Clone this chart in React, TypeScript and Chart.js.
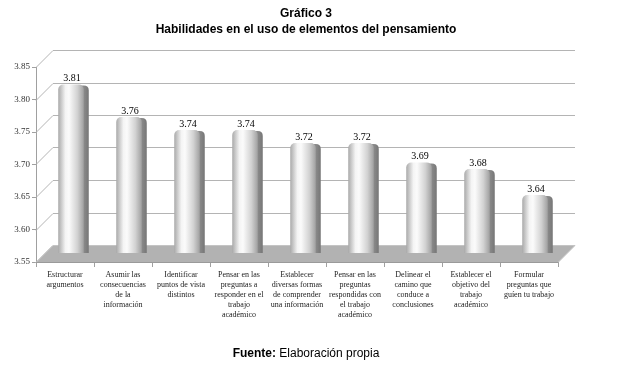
import React, { useEffect, useRef } from "react";
import { Chart, registerables } from "chart.js";

Chart.register(...registerables);

const categories: string[][] = [
  ["Estructurar", "argumentos"],
  ["Asumir las", "consecuencias", "de la", "información"],
  ["Identificar", "puntos de vista", "distintos"],
  ["Pensar en las", "preguntas a", "responder en el", "trabajo", "académico"],
  ["Establecer", "diversas formas", "de comprender", "una información"],
  ["Pensar en las", "preguntas", "respondidas con", "el trabajo", "académico"],
  ["Delinear el", "camino que", "conduce a", "conclusiones"],
  ["Establecer el", "objetivo del", "trabajo", "académico"],
  ["Formular", "preguntas que", "guíen tu trabajo"],
];
const values: number[] = [3.81, 3.76, 3.74, 3.74, 3.72, 3.72, 3.69, 3.68, 3.64];
const yMin = 3.55;
const yMax = 3.85;
const yStep = 0.05;

const SERIF = "'Liberation Serif', 'DejaVu Serif', serif";
const SANS = "'Liberation Sans', Arial, sans-serif";

const WALL_DX = 17;
const WALL_DY = 17;
const BAR_DX = 6;
const BAR_DY = 8.5;
const BAR_PCT = 0.44;

function topRoundRect(ctx: CanvasRenderingContext2D, x: number, y: number, w: number, h: number, r: number) {
  ctx.beginPath();
  ctx.moveTo(x, y + h);
  ctx.lineTo(x, y + r);
  ctx.quadraticCurveTo(x, y, x + r, y);
  ctx.lineTo(x + w - r, y);
  ctx.quadraticCurveTo(x + w, y, x + w, y + r);
  ctx.lineTo(x + w, y + h);
  ctx.closePath();
}

const threeD = {
  id: "threeD",
  beforeDatasetsDraw(chart: any) {
    const { ctx, chartArea, scales } = chart;
    const ys = scales.y;
    const left = chartArea.left;
    const right = chartArea.right;
    ctx.save();
    ctx.strokeStyle = "#b4b4b4";
    ctx.lineWidth = 1;
    for (const t of ys.ticks) {
      const py = Math.round(ys.getPixelForValue(t.value)) + 0.5;
      ctx.beginPath();
      ctx.moveTo(left, py);
      ctx.lineTo(left + WALL_DX, py - WALL_DY);
      ctx.lineTo(right + WALL_DX, py - WALL_DY);
      ctx.stroke();
    }
    const fy = Math.round(ys.getPixelForValue(yMin)) + 0.5;
    ctx.beginPath();
    ctx.moveTo(left, fy);
    ctx.lineTo(right, fy);
    ctx.lineTo(right + WALL_DX, fy - WALL_DY);
    ctx.lineTo(left + WALL_DX, fy - WALL_DY);
    ctx.closePath();
    ctx.fillStyle = "#b2b2b2";
    ctx.fill();
    ctx.strokeStyle = "#c4c4c4";
    ctx.stroke();
    ctx.beginPath();
    ctx.moveTo(left, fy);
    ctx.lineTo(right, fy);
    ctx.strokeStyle = "#9a9a9a";
    ctx.stroke();
    ctx.restore();

    ctx.save();
    ctx.translate(BAR_DX, -BAR_DY);
    const meta = chart.getDatasetMeta(0);
    meta.data.forEach((el: any) => {
      const { x, y, base, width } = el.getProps(["x", "y", "base", "width"], true);
      if (![x, y, base, width].every(Number.isFinite)) return;
      const g = ctx.createLinearGradient(x - width / 2 + 5, 0, x + width / 2 + 5, 0);
      g.addColorStop(0, "#b5b5b5");
      g.addColorStop(0.7, "#959595");
      g.addColorStop(1, "#767676");
      ctx.fillStyle = g;
      topRoundRect(ctx, x - width / 2 + 5, y + 1, width, base - y - 1, 5);
      ctx.fill();
    });
  },
  afterDatasetsDraw(chart: any) {
    const { ctx } = chart;
    const meta = chart.getDatasetMeta(0);
    ctx.fillStyle = "#000";
    ctx.font = `10px ${SERIF}`;
    ctx.textAlign = "center";
    ctx.textBaseline = "bottom";
    meta.data.forEach((el: any, i: number) => {
      const { x, y } = el.getProps(["x", "y"], true);
      ctx.fillText(values[i].toFixed(2), x + 1, y - 1);
    });
    ctx.restore();
  },
};

export default function App() {
  const ref = useRef<HTMLCanvasElement | null>(null);
  useEffect(() => {
    if (!ref.current) return;
    const chart = new Chart(ref.current, {
      type: "bar",
      data: {
        labels: categories,
        datasets: [
          {
            data: values,
            base: yMin,
            clip: false as any,
            barPercentage: BAR_PCT,
            categoryPercentage: 1,
            borderRadius: { topLeft: 5, topRight: 5, bottomLeft: 0, bottomRight: 0 },
            borderSkipped: "bottom",
            backgroundColor: (c: any) => {
              const ch = c.chart;
              const area = ch.chartArea;
              const xs = ch.scales && ch.scales.x;
              if (!area || !xs || c.dataIndex === undefined) return "#dddddd";
              const cx = xs.getPixelForValue(c.dataIndex);
              const w = ((area.right - area.left) / categories.length) * BAR_PCT;
              if (!Number.isFinite(cx) || !Number.isFinite(w)) return "#dddddd";
              const g = ch.ctx.createLinearGradient(cx - w / 2, 0, cx + w / 2, 0);
              g.addColorStop(0, "#a9a9a9");
              g.addColorStop(0.28, "#f4f4f4");
              g.addColorStop(0.42, "#fbfbfb");
              g.addColorStop(0.75, "#d2d2d2");
              g.addColorStop(1, "#a0a0a0");
              return g;
            },
          } as any,
        ],
      },
      options: {
        responsive: false,
        animation: false,
        layout: { padding: { top: 67, right: 64, left: 0, bottom: 0 } },
        plugins: { legend: { display: false }, tooltip: { enabled: false } },
        scales: {
          x: {
            grid: { display: true, drawOnChartArea: false, offset: true, tickLength: 5, color: "#a0a0a0" },
            border: { color: "#9a9a9a" },
            ticks: {
              autoSkip: false,
              maxRotation: 0,
              minRotation: 0,
              padding: 3,
              color: "#222",
              font: { family: SERIF, size: 8, lineHeight: "10px" as any },
            },
            afterFit: (s: any) => {
              s.height = 109;
            },
          },
          y: {
            min: yMin,
            max: yMax,
            grid: { display: true, drawOnChartArea: false, tickLength: 4, color: "#a0a0a0" },
            border: { color: "#a0a0a0" },
            ticks: {
              stepSize: yStep,
              padding: 2,
              color: "#333",
              font: { family: SERIF, size: 9 },
              callback: (v: any) => Number(v).toFixed(2),
            },
            afterFit: (s: any) => {
              s.width = 36;
            },
          },
        },
      },
      plugins: [threeD],
    });
    chart.update();
    return () => chart.destroy();
  }, []);

  return (
    <div style={{ position: "absolute", left: 0, top: 0, width: 622, height: 371, background: "#fff" }}>
      <canvas ref={ref} width={622} height={371} style={{ position: "absolute", left: 0, top: 0 }} />
      <div
        style={{
          position: "absolute",
          left: 0,
          top: 5,
          width: 612,
          textAlign: "center",
          fontFamily: SANS,
          fontWeight: "bold",
          fontSize: 12,
          lineHeight: "16px",
          color: "#000",
        }}
      >
        <div>Gráfico 3</div>
        <div>Habilidades en el uso de elementos del pensamiento</div>
      </div>
      <div
        style={{
          position: "absolute",
          left: 0,
          top: 346,
          width: 612,
          textAlign: "center",
          fontFamily: SANS,
          fontSize: 12,
          color: "#000",
        }}
      >
        <b>Fuente:</b> Elaboración propia
      </div>
    </div>
  );
}
